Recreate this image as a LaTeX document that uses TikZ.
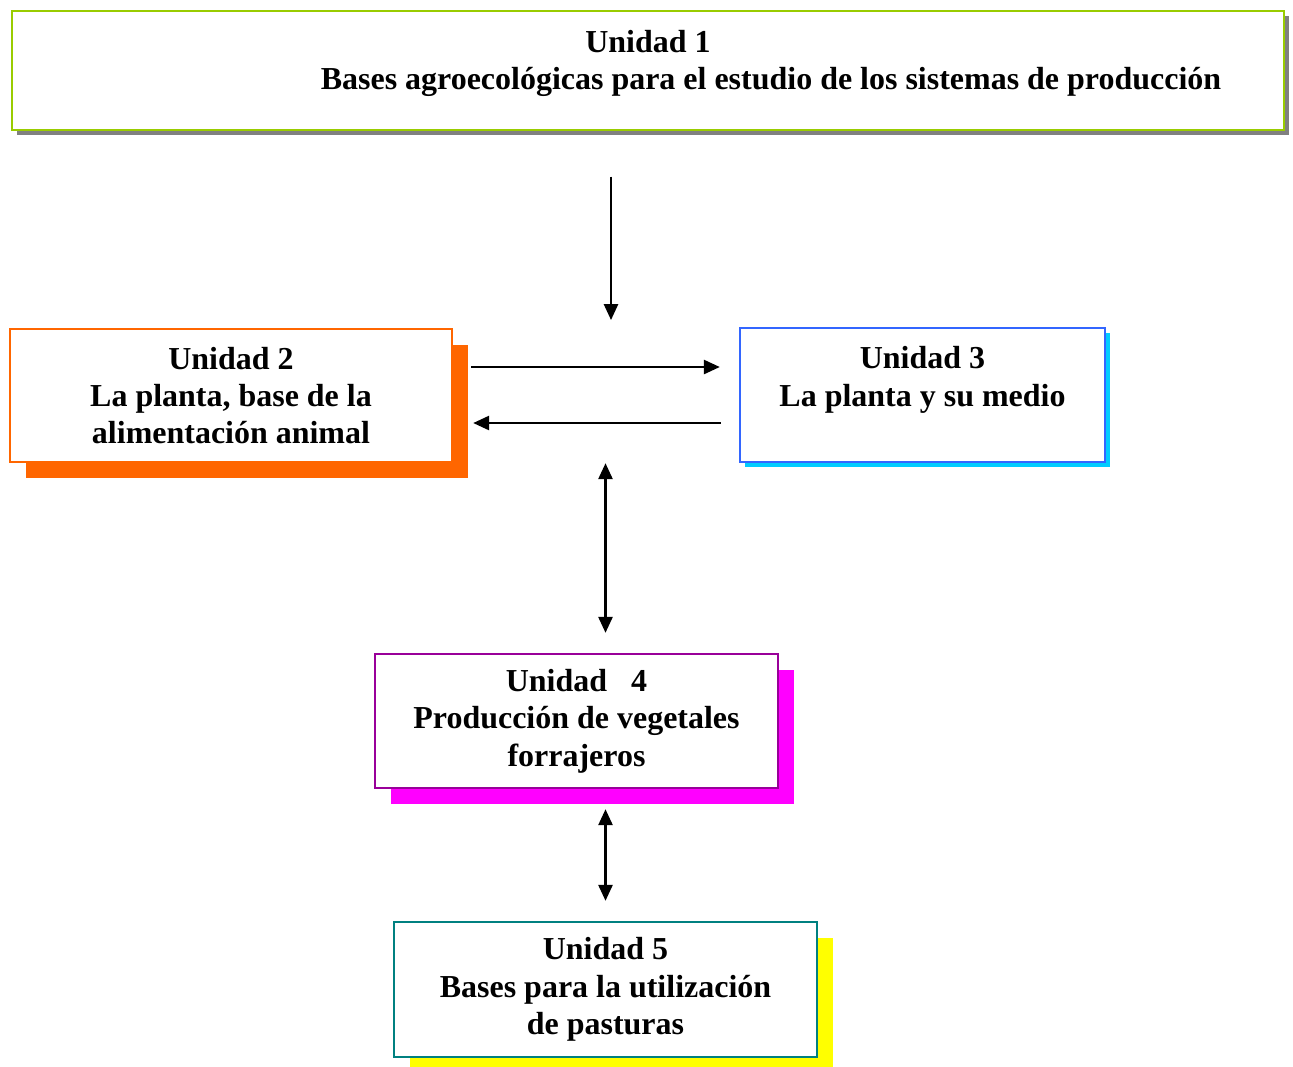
\documentclass[tikz,border=0pt]{standalone}
\usepackage{fontspec}
\setmainfont{Liberation Serif}
\usetikzlibrary{arrows.meta,shadows}
\newdimen\pxu \pxu=0.02cm
\definecolor{verdeU}{HTML}{99CC00}
\definecolor{naranjaU}{HTML}{FF6600}
\definecolor{azulU}{HTML}{3366FF}
\definecolor{celesteU}{HTML}{00CCFF}
\definecolor{violetaU}{HTML}{990099}
\definecolor{magentaU}{HTML}{FF00FF}
\definecolor{tealU}{HTML}{008080}
\definecolor{amarilloU}{HTML}{FFFF00}
\definecolor{grisU}{HTML}{808080}
\tikzset{
  unidad/.style={fill=white, line width=1.4pt, align=center, inner sep=0pt,
    font=\fontsize{18.2}{21.3}\selectfont\bfseries},
  sombra/.style 2 args={drop shadow={fill=#1, draw=none, opacity=1, shadow xshift=#2\pxu, shadow yshift=-#2\pxu}},
  flecha/.style={-{Triangle[length=9pt,width=8pt]}, line width=1.2pt},
  doble/.style={{Triangle[length=9pt,width=8pt]}-{Triangle[length=9pt,width=8pt]}, line width=1.2pt},
}
\begin{document}
\begin{tikzpicture}[x=0.02cm, y=-0.02cm]
    \useasboundingbox (0,0) rectangle (1293,1066);
    \node[unidad, draw=verdeU, sombra={grisU}{5}, minimum width=1272\pxu, minimum height=119\pxu] (u1) at (648,70.5)
        {Unidad 1\\ \hspace*{246\pxu}Bases agroecológicas para el estudio de los sistemas de producción\rule[-12pt]{0pt}{12pt}};
    \node[unidad, draw=naranjaU, sombra={naranjaU}{16}, minimum width=442\pxu, minimum height=133\pxu] (u2) at (231,395.5)
        {Unidad 2\\La planta, base de la\\alimentación animal};
    \node[unidad, draw=azulU, sombra={celesteU}{5}, minimum width=365\pxu, minimum height=134\pxu] (u3) at (922.5,395)
        {Unidad 3\\La planta y su medio\\ \mbox{}};
    \node[unidad, draw=violetaU, sombra={magentaU}{16}, minimum width=403\pxu, minimum height=134\pxu] (u4) at (576.5,721)
        {Unidad~~~4\\Producción de vegetales\\forrajeros};
    \node[unidad, draw=tealU, sombra={amarilloU}{16}, minimum width=423\pxu, minimum height=135\pxu] (u5) at (605.5,989.5)
        {Unidad 5\\Bases para la utilización\\de pasturas};
    \coordinate (centro) at (611,320);

    \draw[flecha, shorten <=45.5\pxu] (u1.south -| centro) -- (centro);
    \draw[flecha, shorten <=18\pxu, shorten >=19\pxu] ([yshift=28.5\pxu]u2.east) -- ([yshift=28.5\pxu]u2.east -| u3.west);
    \draw[flecha, shorten <=18\pxu, shorten >=20\pxu] ([yshift=-27.5\pxu]u2.east -| u3.west) -- ([yshift=-27.5\pxu]u2.east);
    \draw[doble, shorten >=20\pxu] (u5.north |- u3.south) -- (u5.north |- u4.north);
    \draw[doble, shorten <=20\pxu, shorten >=20\pxu] (u5.north |- u4.south) -- (u5.north);
\end{tikzpicture}
\end{document}
